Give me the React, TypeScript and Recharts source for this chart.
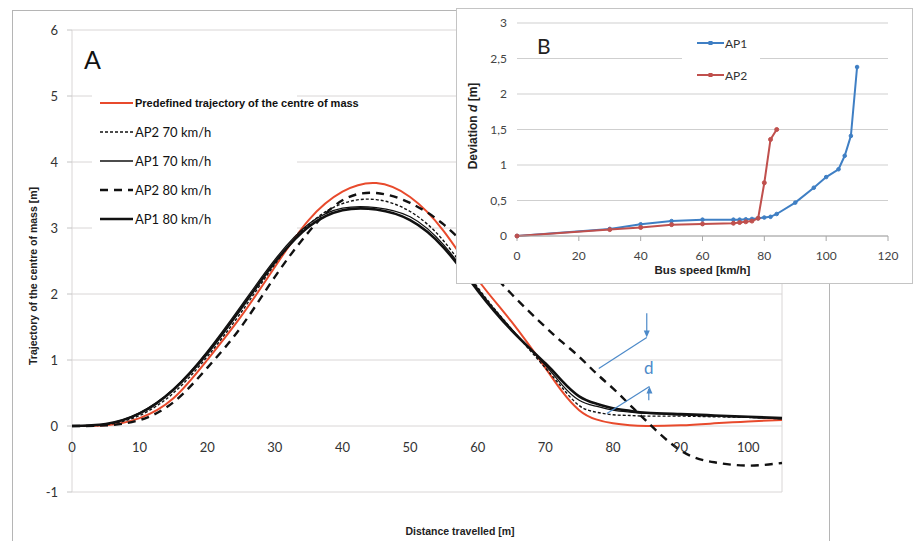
import React from "react";
import {
  LineChart,
  Line,
  XAxis,
  YAxis,
  CartesianGrid,
  ReferenceLine,
  ReferenceDot,
  Legend,
} from "recharts";

// ---- panel A: trajectory of the centre of mass ----
const distance = [0, 5, 10, 15, 20, 25, 30, 35, 40, 45, 50, 55, 60, 65, 70, 72.5, 75, 77.5, 80, 82.5, 85, 90, 95, 100, 105];
const predefined = [0, 0.01, 0.12, 0.42, 1.0, 1.66, 2.41, 3.12, 3.55, 3.68, 3.47, 2.95, 2.22, 1.58, 0.88, 0.52, 0.24, 0.1, 0.04, 0.01, 0.0, 0.01, 0.04, 0.07, 0.09];
const ap2At70 = [0, 0.02, 0.16, 0.5, 1.05, 1.72, 2.45, 3.05, 3.37, 3.43, 3.25, 2.8, 2.1, 1.47, 0.88, 0.58, 0.31, 0.21, 0.17, 0.16, 0.15, 0.15, 0.14, 0.13, 0.11];
const ap1At70 = [0, 0.03, 0.2, 0.56, 1.13, 1.82, 2.52, 3.06, 3.3, 3.31, 3.17, 2.74, 2.08, 1.47, 0.92, 0.62, 0.39, 0.3, 0.24, 0.21, 0.19, 0.17, 0.15, 0.13, 0.11];
const ap2At80 = [0, 0.01, 0.09, 0.36, 0.88, 1.5, 2.26, 2.94, 3.42, 3.53, 3.38, 3.05, 2.55, 2.0, 1.5, 1.27, 1.05, 0.8, 0.57, 0.32, 0.07, -0.37, -0.55, -0.6, -0.56];
const ap1At80 = [0, 0.03, 0.19, 0.55, 1.1, 1.78, 2.48, 3.02, 3.27, 3.28, 3.12, 2.7, 2.05, 1.45, 0.95, 0.68, 0.45, 0.34, 0.27, 0.23, 0.2, 0.18, 0.16, 0.14, 0.12];

const distanceTicks = [0, 10, 20, 30, 40, 50, 60, 70, 80, 90, 100];
const trajectoryTicks = [-1, 0, 1, 2, 3, 4, 5, 6];

// deviation "d" markers (data coordinates)
const dUpperLeader = [{ x: 77.9, y: 0.87 }, { x: 85, y: 1.34 }];
const dUpperArrow = [{ x: 85, y: 1.71 }, { x: 85, y: 1.38 }];
const dLowerLeader = [{ x: 79.1, y: 0.19 }, { x: 85.4, y: 0.6 }];
const dLowerArrow = [{ x: 85.3, y: 0.39 }, { x: 85.3, y: 0.56 }];
const dLabelPos = { x: 85.3, y: 0.89 };

// ---- panel B: deviation vs bus speed ----
const ap1Speed = [0, 30, 40, 50, 60, 70, 72, 74, 76, 78, 80, 82, 84, 90, 96, 100, 104, 106, 108, 110];
const ap1Deviation = [0, 0.1, 0.165, 0.21, 0.23, 0.23, 0.23, 0.235, 0.24, 0.25, 0.26, 0.27, 0.31, 0.47, 0.68, 0.83, 0.94, 1.13, 1.41, 2.38];
const ap2Speed = [0, 30, 40, 50, 60, 70, 72, 74, 76, 78, 80, 82, 84];
const ap2Deviation = [0, 0.09, 0.12, 0.16, 0.17, 0.18, 0.19, 0.2, 0.21, 0.25, 0.75, 1.36, 1.5];

const speedTicks = [0, 20, 40, 60, 80, 100, 120];
const deviationTicks = [0, 0.5, 1, 1.5, 2, 2.5, 3];

const trajectoryRows = distance.map((d, i) => ({
  d,
  predefined: predefined[i],
  ap2At70: ap2At70[i],
  ap1At70: ap1At70[i],
  ap2At80: ap2At80[i],
  ap1At80: ap1At80[i],
}));
const ap1Rows = ap1Speed.map((s, i) => ({ speed: s, dev: ap1Deviation[i] }));
const ap2Rows = ap2Speed.map((s, i) => ({ speed: s, dev: ap2Deviation[i] }));

const RED = "#e84a2c";
const BLUE = "#3f7fc4";
const BROWN_RED = "#c0504d";
const NOTE_BLUE = "#4d8ac9";
const FONT = "Lato, 'Open Sans', sans-serif";
const ARIAL = "'Liberation Sans', Arial, sans-serif";

const seriesA = [
  { key: "predefined", label: "Predefined trajectory of the centre of mass", color: RED, width: 2, dash: undefined, bold: true },
  { key: "ap2At70", label: "AP2 70 km/h", color: "#111", width: 1.4, dash: "3 2", bold: false },
  { key: "ap1At70", label: "AP1 70 km/h", color: "#111", width: 1.3, dash: undefined, bold: false },
  { key: "ap2At80", label: "AP2 80 km/h", color: "#111", width: 2.4, dash: "8 6", bold: false },
  { key: "ap1At80", label: "AP1 80 km/h", color: "#111", width: 2.6, dash: undefined, bold: false },
];

// eslint-disable-next-line @typescript-eslint/no-explicit-any
const BottomTitle = ({ viewBox, text, dx = 0, lift = 6, size = 11 }: any) => {
  const { x, y, width, height } = viewBox;
  return (
    <text
      x={x + width / 2 + dx}
      y={y + height - lift}
      textAnchor="middle"
      fontFamily={ARIAL}
      fontWeight="bold"
      fontSize={size}
      fill="#222"
    >
      {text}
    </text>
  );
};

// eslint-disable-next-line @typescript-eslint/no-explicit-any
const SideTitle = ({ viewBox, children, left, centerY, size = 11 }: any) => {
  const { x, y, height } = viewBox;
  const cx = x + left;
  const cy = centerY ?? y + height / 2;
  return (
    <text
      x={cx}
      y={cy}
      transform={`rotate(-90, ${cx}, ${cy})`}
      textAnchor="middle"
      dominantBaseline="central"
      fontFamily={ARIAL}
      fontWeight="bold"
      fontSize={size}
      fill="#222"
    >
      {children}
    </text>
  );
};

const MainLegend = () => (
  <div style={{ width: 205, background: "#fff", fontFamily: FONT }}>
    {seriesA.map((s) => (
      <div key={s.key} style={{ height: 29, display: "flex", alignItems: "center", whiteSpace: "nowrap" }}>
        <svg width={41} height={10} style={{ flex: "none" }}>
          <line x1={8} y1={5} x2={41} y2={5} stroke={s.color} strokeWidth={s.width} strokeDasharray={s.dash} />
        </svg>
        <span
          style={{
            marginLeft: 2,
            background: "#fff",
            paddingRight: 4,
            color: "#111",
            fontFamily: s.bold ? ARIAL : FONT,
            fontWeight: s.bold ? "bold" : "normal",
            fontSize: s.bold ? 11 : 13,
          }}
        >
          {s.label}
        </span>
      </div>
    ))}
  </div>
);

const InsetLegend = () => (
  <div style={{ width: 78, background: "#fff", fontFamily: FONT, fontSize: 12, color: "#333" }}>
    {[
      { label: "AP1", color: BLUE },
      { label: "AP2", color: BROWN_RED },
    ].map((it) => (
      <div key={it.label} style={{ height: 32, display: "flex", alignItems: "center" }}>
        <svg width={42} height={8} style={{ flex: "none" }}>
          <line x1={15} y1={4} x2={42} y2={4} stroke={it.color} strokeWidth={2} />
          <rect x={26.5} y={2} width={4} height={4} fill={it.color} />
        </svg>
        <span style={{ marginLeft: 1 }}>{it.label}</span>
      </div>
    ))}
  </div>
);

// eslint-disable-next-line @typescript-eslint/no-explicit-any
const downHead = (p: any) => (
  <path d={`M${p.cx - 3},${p.cy - 7} L${p.cx + 3},${p.cy - 7} L${p.cx},${p.cy} Z`} fill={NOTE_BLUE} />
);
// eslint-disable-next-line @typescript-eslint/no-explicit-any
const upHead = (p: any) => (
  <path d={`M${p.cx - 3},${p.cy + 7} L${p.cx + 3},${p.cy + 7} L${p.cx},${p.cy} Z`} fill={NOTE_BLUE} />
);

export default function App() {
  return (
    <div
      style={{
        position: "absolute",
        left: 0,
        top: 0,
        width: 919,
        height: 541,
        overflow: "hidden",
        background: "#fff",
      }}
    >
      {/* frame of panel A */}
      <div
        style={{
          position: "absolute",
          left: 12,
          top: 10,
          width: 818,
          height: 560,
          border: "1px solid #b5b5b5",
          boxSizing: "border-box",
        }}
      />
      <div style={{ position: "absolute", left: 0, top: 0 }}>
        <LineChart width={840} height={541} data={trajectoryRows} margin={{ top: 30, right: 58, bottom: 0, left: 0 }}>
          <CartesianGrid stroke="#d9d6d6" />
          <XAxis
            type="number"
            dataKey="d"
            domain={[0, 105]}
            ticks={distanceTicks}
            tick={false}
            tickLine={false}
            axisLine={false}
            height={49}
            label={<BottomTitle text="Distance travelled [m]" dx={33} lift={6} size={10.5} />}
          />
          <YAxis
            type="number"
            domain={[-1, 6]}
            ticks={trajectoryTicks}
            width={72}
            axisLine={false}
            tickSize={5}
            tickMargin={9}
            tickLine={{ stroke: "#c4c4c4" }}
            tick={{ fill: "#333", fontSize: 13, fontFamily: FONT }}
            label={
              <SideTitle left={33} centerY={276} size={10.5}>
                Trajectory of the centre of mass [m]
              </SideTitle>
            }
          />
          {distanceTicks.map((t) => (
            <ReferenceDot
              key={`xt-${t}`}
              x={t}
              y={0}
              r={0}
              shape={(p: { cx: number; cy: number }) => (
                <text x={p.cx} y={p.cy + 26} textAnchor="middle" fontSize={13} fontFamily={FONT} fill="#333">
                  {t}
                </text>
              )}
            />
          ))}
          {seriesA.map((s) => (
            <Line
              key={s.key}
              type="natural"
              dataKey={s.key}
              name={s.label}
              stroke={s.color}
              strokeWidth={s.width}
              strokeDasharray={s.dash}
              dot={false}
              activeDot={false}
              isAnimationActive={false}
            />
          ))}
          <ReferenceLine segment={dUpperLeader} stroke={NOTE_BLUE} strokeWidth={1.2} />
          <ReferenceLine segment={dUpperArrow} stroke={NOTE_BLUE} strokeWidth={1.2} />
          <ReferenceLine segment={dLowerLeader} stroke={NOTE_BLUE} strokeWidth={1.2} />
          <ReferenceLine segment={dLowerArrow} stroke={NOTE_BLUE} strokeWidth={1.2} />
          <ReferenceDot x={dUpperLeader[1].x} y={dUpperLeader[1].y} r={0} shape={downHead} />
          <ReferenceDot x={dLowerLeader[1].x} y={dLowerLeader[1].y} r={0} shape={upHead} />
          <ReferenceDot
            x={dLabelPos.x}
            y={dLabelPos.y}
            r={0}
            shape={(p: { cx: number; cy: number }) => (
              <text x={p.cx} y={p.cy} textAnchor="middle" dominantBaseline="central" fontSize={17} fontFamily={FONT} fill={NOTE_BLUE}>
                d
              </text>
            )}
          />
          <Legend
            layout="vertical"
            align="center"
            verticalAlign="middle"
            content={<MainLegend />}
            wrapperStyle={{ left: 92, top: 88.5, width: 320 }}
          />
        </LineChart>
      </div>
      <div style={{ position: "absolute", left: 84, top: 44, fontFamily: FONT, fontSize: 25, color: "#111" }}>A</div>

      {/* panel B inset */}
      <div
        style={{
          position: "absolute",
          left: 456,
          top: 8,
          width: 457,
          height: 276,
          border: "1px solid #c4c4c4",
          boxSizing: "border-box",
          background: "#fff",
        }}
      >
        <LineChart width={455} height={274} margin={{ top: 14, right: 24, bottom: 0, left: 0 }}>
          <CartesianGrid vertical={false} stroke="#cfcfcf" />
          <XAxis
            type="number"
            dataKey="speed"
            domain={[0, 120]}
            ticks={speedTicks}
            height={47}
            tickSize={5}
            tickMargin={10}
            axisLine={{ stroke: "#a8a8a8" }}
            tickLine={{ stroke: "#a8a8a8" }}
            tick={{ fill: "#444", fontSize: 12, fontFamily: FONT }}
            label={<BottomTitle text="Bus speed [km/h]" lift={9} size={11.5} />}
          />
          <YAxis
            type="number"
            domain={[0, 3]}
            ticks={deviationTicks}
            tickFormatter={(v: number) => String(v).replace(".", ",")}
            width={60}
            axisLine={false}
            tickLine={false}
            tickSize={0}
            tickMargin={10}
            tick={{ fill: "#444", fontSize: 12, fontFamily: FONT }}
            label={
              <SideTitle left={16} centerY={117} size={12}>
                Deviation <tspan fontStyle="italic">d</tspan> [m]
              </SideTitle>
            }
          />
          <Line
            data={ap1Rows}
            dataKey="dev"
            name="AP1"
            type="linear"
            stroke={BLUE}
            strokeWidth={2}
            dot={{ r: 1.8, fill: BLUE, stroke: BLUE, strokeWidth: 1 }}
            activeDot={false}
            isAnimationActive={false}
          />
          <Line
            data={ap2Rows}
            dataKey="dev"
            name="AP2"
            type="linear"
            stroke={BROWN_RED}
            strokeWidth={2}
            dot={{ r: 2, fill: BROWN_RED, stroke: BROWN_RED, strokeWidth: 1 }}
            activeDot={false}
            isAnimationActive={false}
          />
          <Legend
            layout="vertical"
            align="center"
            verticalAlign="middle"
            content={<InsetLegend />}
            wrapperStyle={{ left: 225, top: 18, width: 80 }}
          />
        </LineChart>
        <div style={{ position: "absolute", left: 80, top: 24, fontFamily: FONT, fontSize: 21, color: "#222" }}>B</div>
      </div>
    </div>
  );
}
